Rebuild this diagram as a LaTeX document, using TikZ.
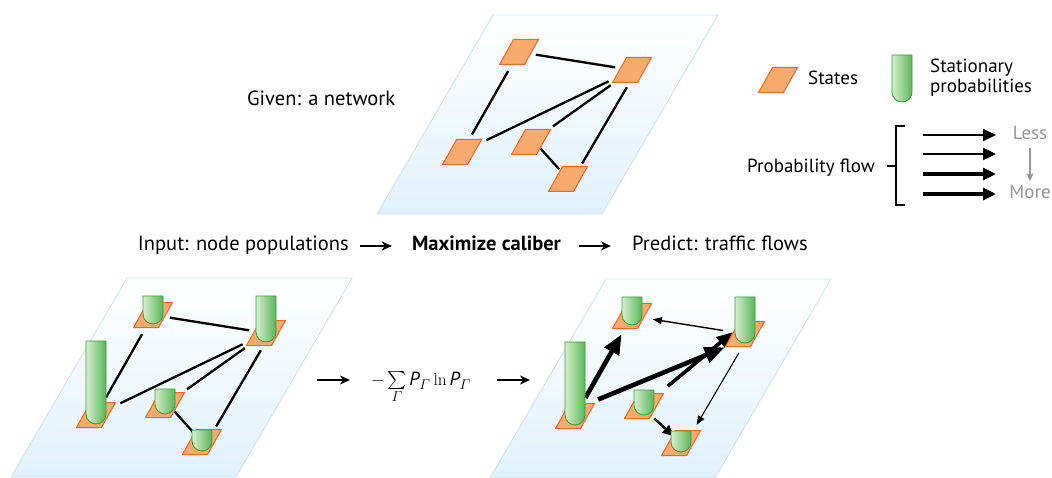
\documentclass[tikz,border=0pt]{standalone}
\usepackage{graphicx}
\usepackage[no-math]{fontspec}
\setmainfont{PT Sans}
\usetikzlibrary{arrows.meta,positioning}

\definecolor{stateorange}{RGB}{249,170,110}
\definecolor{stateedge}{RGB}{241,104,38}
\definecolor{barlight}{RGB}{214,238,204}
\definecolor{bardark}{RGB}{88,182,88}
\definecolor{baredge}{RGB}{58,156,62}
\definecolor{planeedge}{RGB}{206,226,232}
\definecolor{planeblue}{RGB}{224,241,251}
\definecolor{lessgray}{RGB}{150,150,150}

\tikzset{
  txt/.style={font=\fontsize{20.5}{24}\selectfont, inner sep=0pt, text height=14pt, text depth=5pt},
  legtxt/.style={txt, font=\fontsize{19}{20}\selectfont},
  plane/.style={draw=planeedge, line width=0.8pt, top color=white, middle color=white, bottom color=planeblue},
  statebox/.style={draw=stateedge, fill=stateorange, line width=1pt, line join=round},
  probbar/.style={draw=baredge, left color=barlight, right color=bardark, line width=0.9pt},
  link/.style={line width=2.3pt},
  stepto/.style={line width=1.5pt, -{Stealth[length=10pt,width=9pt,inset=3pt]}},
  flowa/.style={line width=1.4pt, -{Triangle[length=9pt,width=7pt]}},
  flowb/.style={line width=2.4pt, -{Triangle[length=11pt,width=10pt]}},
  flowc/.style={line width=3.6pt, -{Triangle[length=16pt,width=13pt]}},
  flowd/.style={line width=4.6pt, -{Triangle[length=20pt,width=16pt]}},
}

% one state: an orange parallelogram centred on a coordinate
\newcommand{\stateat}[1]{\path[statebox, shift={(#1)}] (-5.5,-12.5) -- (19.5,-12.5) -- (5.5,12.5) -- (-19.5,12.5) -- cycle;}
% one stationary probability: a green bar standing on a state
\newcommand{\barat}[2]{\path[probbar, shift={(#1)}] (-10,9-#2) -- (-10,-1) arc[start angle=180, end angle=360, radius=10pt] -- (10,9-#2) -- cycle;}
% a sum sign that grows with the text
\newcommand{\bigsum}{\mathop{\vcenter{\hbox{\scalebox{1.8}{$\sum$}}}}}

\begin{document}
\begin{tikzpicture}[x=1pt,y=-1pt]
\useasboundingbox (0,0) rectangle (1052,478);

% the three networks: given (t), populations (l), flows (r)
\foreach \p/\dx/\dy in {t/0/0, l/-366/263, r/113/264} {
  \path[plane] (493+\dx,15+\dy) -- (718+\dx,15+\dy) -- (602+\dx,214+\dy) -- (377+\dx,214+\dy) -- cycle;
  \coordinate (\p a) at (519+\dx,52+\dy);
  \coordinate (\p b) at (632+\dx,70+\dy);
  \coordinate (\p c) at (462+\dx,152+\dy);
  \coordinate (\p d) at (531+\dx,142+\dy);
  \coordinate (\p e) at (568+\dx,179+\dy);
}

% links of the given network and of the populated one
\foreach \p in {t,l} {
  \foreach \u/\v/\s/\t in {a/b/17/17, a/c/22/20, c/b/27/26, d/b/27/26}
    \draw[link, shorten <=\s pt, shorten >=\t pt] (\p\u) -- (\p\v);
  \draw[link, shorten <=14pt, shorten >=13pt] ([yshift=4]\p d) -- (\p e);
  \draw[link, shorten <=20pt, shorten >=18pt] ([xshift=5]\p b) -- ([xshift=5]\p e);
}

% predicted flows
\draw[flowd, shorten <=21pt, shorten >=21pt] (rc) -- (ra);
\draw[flowd, shorten <=25pt, shorten >=22pt] ([yshift=7]rc) -- ([yshift=-5]rb);
\draw[flowc, shorten <=31pt, shorten >=16pt] (rd) -- ([yshift=12]rb);
\draw[flowa, shorten <=22pt, shorten >=21pt] (rb) -- (ra);
\draw[flowa, line width=1.1pt, shorten <=22pt, shorten >=21pt] ([xshift=5]rb) -- ([xshift=5]re);
\draw[flowb, shorten <=14pt, shorten >=10pt] ([yshift=-3]rd) -- (re);

\foreach \p in {t,l,r} {
  \foreach \s in {a,b,c,d,e} {\stateat{\p\s}}
}
\foreach \p in {l,r} {
  \foreach \s/\h in {a/28,b/46,c/83,d/25,e/21} {\barat{\p\s}{\h}}
}

% texts
\node[txt, anchor=west] (given) at (247,101) {Given: a network};
\node[txt, anchor=east] (input) at (349,246) {Input: node populations};
\node[txt] (maxcal) at (486.5,246) {\textbf{Maximize caliber}};
\node[txt, anchor=west] (predict) at (632,246) {Predict: traffic flows};
\draw[stepto, shorten <=11pt, shorten >=20pt] (input) -- (maxcal);
\draw[stepto, shorten <=18pt, shorten >=21pt] (maxcal) -- (predict);

\node[font=\fontsize{19}{23}\selectfont, inner sep=0pt] (caliber) at (421,387)
  {$-\bigsum\limits_{\mathnormal{\Gamma}}\textit{P}_{\mathnormal{\Gamma}}\ln \textit{P}_{\mathnormal{\Gamma}}$};
\coordinate (lout) at (317,380);
\coordinate (lend) at (350,380);
\coordinate (rstart) at (497,380);
\coordinate (rin) at (530,380);
\draw[stepto] (lout) -- (lend);
\draw[stepto] (rstart) -- (rin);

% legend
\coordinate (legstate) at (778,80);
\stateat{legstate}
\node[legtxt, anchor=west] (stateslbl) at (808,80) {States};
\coordinate (legbar) at (902,93);
\barat{legbar}{47}
\node[font=\fontsize{19}{20}\selectfont, inner sep=0pt, anchor=west, align=left] (barlbl) at (930,78) {Stationary\\probabilities};

\node[legtxt, anchor=east] (flowlbl) at (875,168) {Probability flow};
\draw[line width=1.3pt] (905,126) -- (896,126) -- (896,205) -- (905,205);
\draw[line width=1.3pt] (896,166) -- (887,166);
\foreach \y/\w in {135/1.8, 154/2.4, 174/3.1, 194/3.9}
  \draw[line width=\w pt, -{Triangle[length=13pt,width=12pt]}] (923,\y) -- (996,\y);
\node[legtxt, text=lessgray] (less) at (1030,135) {Less};
\node[legtxt, text=lessgray] (more) at (1030,194) {More};
\draw[lessgray, line width=1.3pt, -{Stealth[length=8pt,width=7pt,inset=2pt]}, shorten <=3pt, shorten >=3pt] (less) -- (more);
\end{tikzpicture}
\end{document}
